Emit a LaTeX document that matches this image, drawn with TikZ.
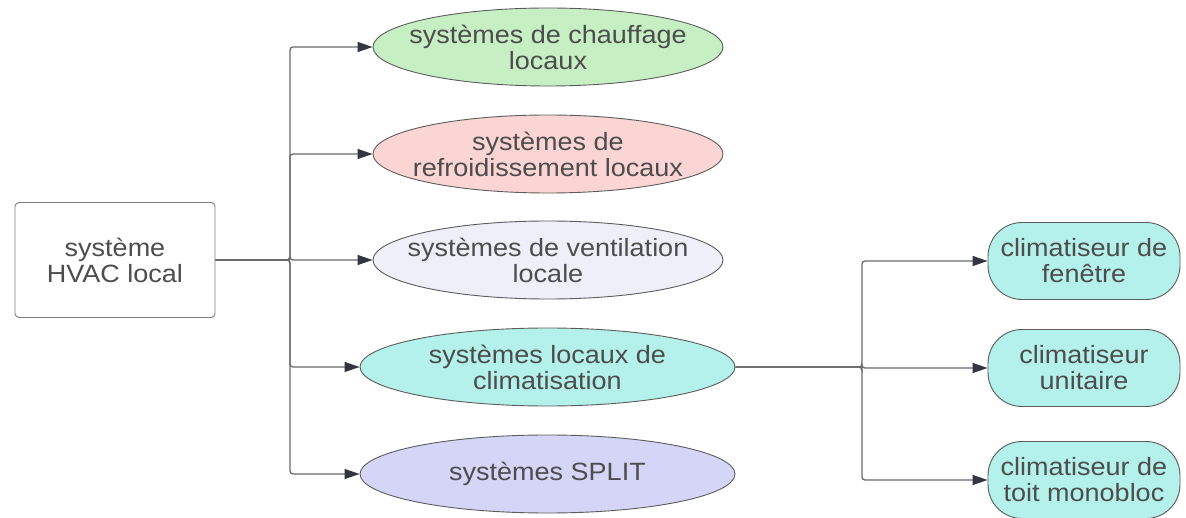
\documentclass[tikz,border=0pt]{standalone}
\usepackage{fontspec}
\usetikzlibrary{shapes.geometric,arrows.meta}
\newfontfamily\lblfont{Liberation Sans}[FakeStretch=1.08]
\definecolor{txt}{HTML}{4D4D4D}
\definecolor{edge}{HTML}{5C5C5C}
\definecolor{wire}{HTML}{6A6A6A}
\definecolor{tipc}{HTML}{333640}
\definecolor{heatc}{HTML}{C6F0C3}
\definecolor{coolc}{HTML}{FBD5D3}
\definecolor{ventc}{HTML}{EFEFFA}
\definecolor{acc}{HTML}{B4F1EA}
\definecolor{splitc}{HTML}{D5D5F8}
\tikzset{
  lbl/.style={font=\lblfont\fontsize{25}{26}\selectfont, text=txt, align=center},
  rootbox/.style={lbl, draw=edge!80, line width=0.9pt, rounded corners=4pt,
    minimum width=200pt, minimum height=115pt, inner sep=0pt},
  oval/.style={lbl, ellipse, draw=edge, line width=0.9pt,
    inner xsep=-40pt, inner ysep=-6pt, minimum height=78pt},
  pill/.style={lbl, draw=edge, line width=0.9pt, rounded corners=34pt,
    minimum width=192pt, minimum height=77pt, inner sep=0pt},
  link/.style={draw=wire, line width=1.3pt, rounded corners=3pt,
    -{Triangle[length=15pt,width=10pt,color=tipc]}}
}
\begin{document}
\begin{tikzpicture}[x=1pt,y=-1pt]
\useasboundingbox (0,0) rectangle (1186,518);

% root box
\node[rootbox] (root) at (115,260) {système\\HVAC local};

% first level
\node[oval, fill=heatc, minimum width=350pt] (heat) at (548,47) {systèmes de chauffage\\locaux};
\node[oval, fill=coolc, minimum width=350pt] (cool) at (548,154) {systèmes de\\refroidissement locaux};
\node[oval, fill=ventc, minimum width=350pt] (vent) at (548,260) {systèmes de ventilation\\locale};
\node[oval, fill=acc, minimum width=375pt] (clim) at (547.5,367) {systèmes locaux de\\climatisation};
\node[oval, fill=splitc, minimum width=375pt] (split) at (547.5,474) {systèmes SPLIT};

% second level
\node[pill, fill=acc] (win) at (1084,261) {climatiseur de\\fenêtre};
\node[pill, fill=acc] (unit) at (1084,368) {climatiseur\\unitaire};
\node[pill, fill=acc] (roof) at (1084,480) {climatiseur de\\toit monobloc};

% branch points
\coordinate (j1) at (290,260);
\coordinate (j2) at (862,367);

\foreach \t in {heat,cool,vent,clim,split}
  \draw[link] (root.east) -- (j1) |- (\t.west);
\foreach \t in {win,unit,roof}
  \draw[link] (clim.east) -- (j2) |- (\t.west);
\end{tikzpicture}
\end{document}
